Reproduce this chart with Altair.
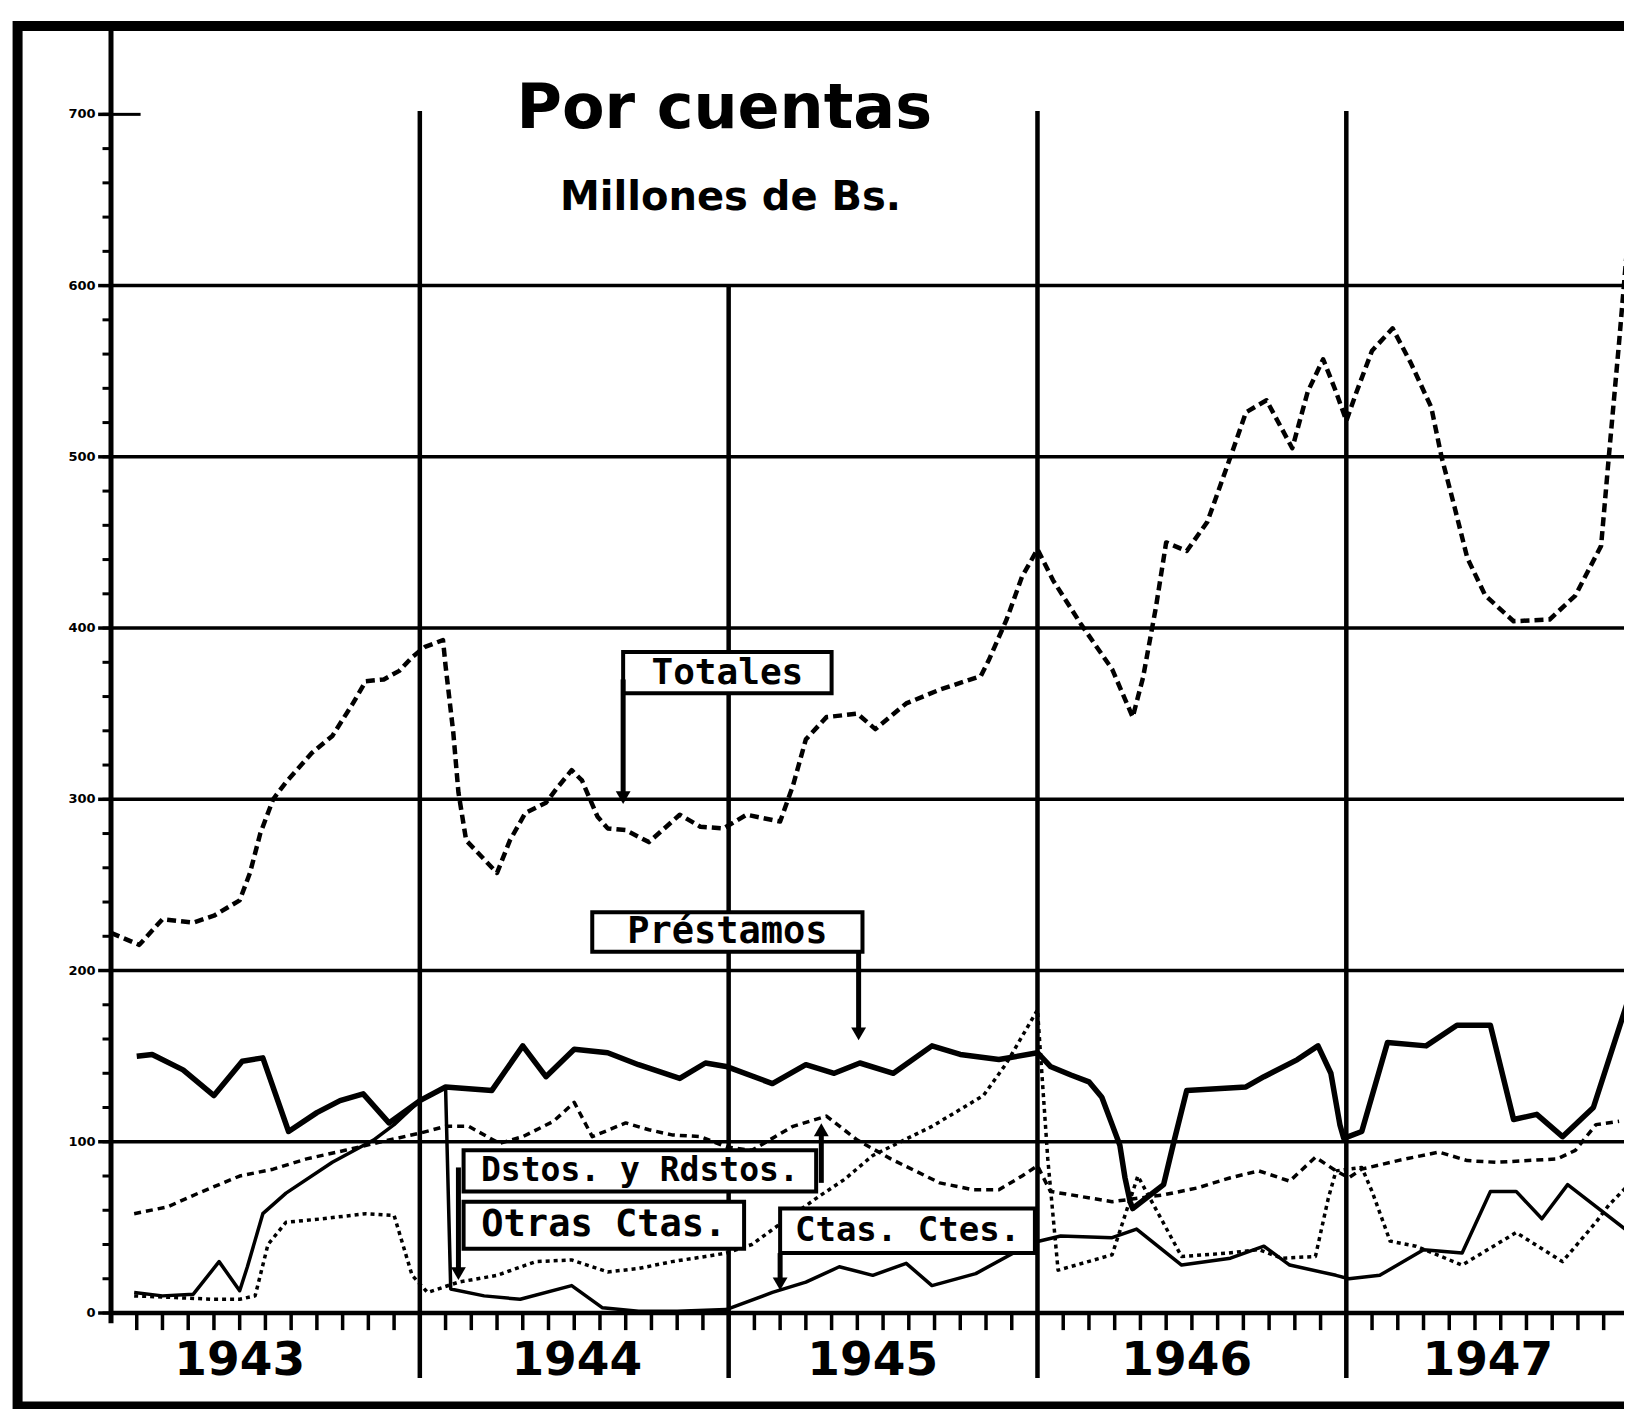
import altair as alt
import pandas as pd

# x = months counted from January 1943 (0); values in millions
totales_mes = [0.0, 1.1, 2.0, 3.2, 4.0, 5.0, 5.4, 5.8, 6.3, 6.8, 7.8, 8.6, 9.4, 9.9, 10.6,
               11.2, 11.7, 12.2, 12.9, 13.0, 13.3, 13.5, 13.8, 15.0, 15.5, 16.1, 16.9, 17.3, 17.9, 18.3,
               18.9, 19.3, 20.0, 20.9, 22.1, 22.9, 23.8, 24.7, 26.0, 26.5, 27.0, 27.8, 29.0, 29.7, 30.9,
               32.2, 33.8, 34.1, 34.8, 35.4, 36.0, 36.6, 37.7, 38.9, 39.7, 40.1, 40.6, 41.0, 41.8, 42.6,
               43.5, 44.1, 44.9, 45.9, 46.5, 47.1, 47.6, 48.0, 48.4, 49.0, 49.8, 50.5, 51.3, 51.7, 52.2,
               52.7, 53.4, 54.5, 55.9, 56.9, 57.9, 58.2, 58.6, 59.0, 59.3]
totales_val = [222, 215, 230, 228, 232, 241, 257, 280, 300, 310, 327, 337, 356, 369, 370,
               375, 383, 389, 393, 378, 339, 304, 276, 257, 276, 292, 298, 306, 317, 311,
               290, 283, 282, 275, 291, 284, 283, 291, 287, 308, 335, 348, 350, 341, 356,
               364, 372, 381, 405, 430, 446, 428, 402, 376, 348, 371, 412, 450, 445, 462,
               500, 526, 533, 505, 538, 557, 538, 521, 538, 562, 575, 555, 529, 500, 471,
               441, 419, 404, 405, 419, 448, 500, 567, 638, 669]

prestamos_mes = [1.0, 1.6, 2.8, 4.0, 5.1, 5.9, 6.9, 8.0, 8.9, 9.8, 10.8, 12.0, 13.0, 14.8, 16.0,
                 16.9, 18.0, 19.3, 20.5, 22.1, 23.1, 23.9, 25.7, 27.0, 28.1, 29.1, 30.4, 31.9, 33.0, 34.5,
                 36.0, 36.5, 37.3, 38.0, 38.5, 38.9, 39.2, 39.4, 39.6, 39.7, 40.9, 41.3, 41.8, 44.1, 44.8,
                 46.1, 46.9, 47.4, 47.75, 47.9, 48.6, 49.6, 51.1, 52.3, 53.6, 54.5, 55.4, 56.4, 57.6, 59.0]
prestamos_val = [150, 151, 142, 127, 147, 149, 106, 117, 124, 128, 111, 124, 132, 130, 156,
                 138, 154, 152, 145, 137, 146, 144, 134, 145, 140, 146, 140, 156, 151, 148,
                 152, 144, 139, 135, 126, 110, 98, 79, 65, 61, 75, 100, 130, 132, 138,
                 148, 156, 140, 110, 102, 106, 158, 156, 168, 168, 113, 116, 103, 120, 185]

dstos_mes = [0.9, 2.2, 3.4, 5.0, 6.3, 7.6, 9.1, 10.5, 12.0, 13.0, 13.9, 15.1, 16.0, 17.2, 18.0,
             18.7, 20.0, 20.9, 21.8, 22.9, 23.9, 24.9, 26.5, 27.8, 29.0, 30.3, 32.2, 33.5, 34.5, 35.4,
             36.0, 36.5, 38.9, 40.9, 42.2, 43.5, 44.6, 45.8, 46.8, 47.6, 48.1, 48.6, 50.0, 51.6, 52.7,
             53.8, 56.2, 56.9, 57.7, 58.6]
dstos_val = [58, 62, 70, 80, 84, 90, 95, 100, 105, 109, 109, 99, 103, 112, 123,
             103, 111, 107, 104, 103, 97, 95, 109, 115, 101, 90, 76, 72, 72, 80,
             86, 71, 65, 69, 73, 79, 83, 77, 91, 83, 79, 84, 89, 94, 89,
             88, 90, 95, 110, 112]

otras_mes = [0.9, 2.0, 3.2, 4.2, 5.0, 5.3, 5.9, 6.8, 8.6, 10.2, 11.0, 12.0, 13.0, 13.2, 14.5,
             15.9, 17.9, 19.1, 20.5, 22.0, 23.9, 25.7, 27.0, 28.3, 29.6, 30.9, 31.9, 33.6, 35.8, 36.9,
             38.9, 39.85, 41.6, 43.5, 44.8, 45.8, 47.6, 48.1, 49.3, 51.0, 52.5, 53.6, 54.6, 55.6, 56.6,
             59.0]
otras_val = [12, 10, 11, 30, 13, 27, 58, 70, 88, 101, 110, 124, 132, 14, 10,
             8, 16, 3, 1, 1, 2, 12, 18, 27, 22, 29, 16, 23, 41, 45,
             44, 49, 28, 32, 39, 28, 22, 20, 22, 37, 35, 71, 71, 55, 75,
             47]

ctes_mes = [0.9, 2.5, 4.0, 5.0, 5.6, 6.1, 6.8, 8.2, 9.9, 11.0, 11.7, 12.3, 13.5, 15.0, 16.5,
            17.9, 19.3, 20.5, 21.8, 23.1, 23.9, 24.9, 26.0, 27.5, 28.5, 29.6, 31.9, 33.9, 34.8, 36.0,
            36.4, 36.8, 38.9, 39.9, 41.6, 43.4, 44.6, 45.5, 46.8, 47.3, 47.6, 48.6, 49.0, 49.7, 50.7,
            52.5, 54.6, 56.4, 57.7, 58.2, 59.3]
ctes_val = [10, 9, 8, 8, 10, 40, 53, 55, 58, 57, 22, 12, 18, 22, 30,
            31, 24, 26, 30, 33, 35, 40, 52, 68, 78, 92, 109, 127, 146, 177,
            90, 25, 34, 80, 33, 35, 37, 32, 33, 67, 83, 85, 71, 42, 39,
            28, 47, 30, 53, 63, 80]

anios = ["1943", "1944", "1945", "1946", "1947"]
anios_mes = [5.0, 18.1, 29.6, 41.8, 53.5]
y_etiquetas = [0, 100, 200, 300, 400, 500, 600, 700]
rejilla_h = [100, 200, 300, 400, 500, 600]
rejilla_v_mes = [12, 24, 36, 48]
rejilla_v_tope = [702, 600, 702, 702]

# label boxes (annotation data)
cajas_texto = ["Totales", "Préstamos", "Dstos. y Rdstos.", "Otras Ctas.", "Ctas. Ctes."]
cajas_x1 = [19.9, 18.7, 13.7, 13.7, 26.0]
cajas_x2 = [28.0, 29.2, 27.4, 24.6, 35.9]
cajas_y1 = [362, 211, 71, 37.5, 35]
cajas_y2 = [386, 234, 95, 65, 61]
cajas_fs = [36, 37, 33, 37, 34]

flechas_mes = [19.9, 29.05, 13.5, 26.0, 27.6]
flechas_desde = [370, 211, 85, 35, 76]
flechas_hasta = [304, 166, 26, 20, 104]
flechas_punta = [301, 163, 23, 17, 107]
flechas_forma = ["triangle-down", "triangle-down", "triangle-down", "triangle-down", "triangle-up"]

titulo = "Por cuentas"
subtitulo = "Millones de Bs."

X_MAX = 58.79
Y_MAX = 751.6
X_FAR = 62

xs = alt.Scale(domain=[0, X_MAX], nice=False, zero=False)
ys = alt.Scale(domain=[0, Y_MAX], nice=False, zero=False)


def ex(f):
    return alt.X(f"{f}:Q", scale=xs, axis=None)


def ey(f):
    return alt.Y(f"{f}:Q", scale=ys, axis=None)


layers = []

# outer frame
frame = pd.DataFrame({"a": [-3.63], "b": [X_FAR], "c": [-54.6], "d": [Y_MAX]})
layers.append(alt.Chart(frame).mark_rect(fillOpacity=0, stroke="black", strokeWidth=10).encode(
    x=ex("a"), x2=alt.X2("b"), y=ey("c"), y2=alt.Y2("d")))

# horizontal grid
gh = pd.DataFrame({"v": rejilla_h, "a": 0, "b": X_FAR})
layers.append(alt.Chart(gh).mark_rule(color="black", strokeWidth=3.5).encode(
    x=ex("a"), x2=alt.X2("b"), y=ey("v")))

# zero axis
z = pd.DataFrame({"v": [0], "a": [0], "b": [X_FAR]})
layers.append(alt.Chart(z).mark_rule(color="black", strokeWidth=4.5).encode(
    x=ex("a"), x2=alt.X2("b"), y=ey("v")))

# y axis line
ya = pd.DataFrame({"t": [0], "c": [-6], "d": [Y_MAX]})
layers.append(alt.Chart(ya).mark_rule(color="black", strokeWidth=5).encode(
    x=ex("t"), y=ey("c"), y2=alt.Y2("d")))

# vertical year lines
gv = pd.DataFrame({"t": rejilla_v_mes, "c": -38, "d": rejilla_v_tope})
layers.append(alt.Chart(gv).mark_rule(color="black", strokeWidth=4.5).encode(
    x=ex("t"), y=ey("c"), y2=alt.Y2("d")))

# month ticks
mt = pd.DataFrame({"t": list(range(1, 60)), "c": 0, "d": -10})
layers.append(alt.Chart(mt).mark_rule(color="black", strokeWidth=3.5).encode(
    x=ex("t"), y=ey("c"), y2=alt.Y2("d")))

# y minor / major ticks
ymin = pd.DataFrame({"v": list(range(0, 701, 20)), "a": -0.33, "b": 0})
layers.append(alt.Chart(ymin).mark_rule(color="black", strokeWidth=3).encode(
    x=ex("a"), x2=alt.X2("b"), y=ey("v")))
ymaj = pd.DataFrame({"v": y_etiquetas, "a": -0.5, "b": 0})
layers.append(alt.Chart(ymaj).mark_rule(color="black", strokeWidth=3.5).encode(
    x=ex("a"), x2=alt.X2("b"), y=ey("v")))
y700 = pd.DataFrame({"v": [700], "a": [0], "b": [1.15]})
layers.append(alt.Chart(y700).mark_rule(color="black", strokeWidth=3).encode(
    x=ex("a"), x2=alt.X2("b"), y=ey("v")))

# y labels
yl = pd.DataFrame({"v": y_etiquetas, "t": -0.6, "txt": [str(v) for v in y_etiquetas]})
layers.append(alt.Chart(yl).mark_text(align="right", baseline="middle", fontSize=13,
                                      fontWeight="bold", font="DejaVu Sans", color="black").encode(
    x=ex("t"), y=ey("v"), text="txt:N"))

# year labels
yr = pd.DataFrame({"t": anios_mes, "v": -28, "txt": anios})
layers.append(alt.Chart(yr).mark_text(align="center", baseline="middle", fontSize=47,
                                      fontWeight="bold", font="DejaVu Sans", color="black").encode(
    x=ex("t"), y=ey("v"), text="txt:N"))

# data series
series = [
    (totales_mes, totales_val, [9, 5], 4.5),
    (prestamos_mes, prestamos_val, [1, 0], 5.5),
    (dstos_mes, dstos_val, [7, 5], 3.5),
    (otras_mes, otras_val, [1, 0], 3.5),
    (ctes_mes, ctes_val, [4, 4], 3.5),
]
for i, (m, v, dash, w) in enumerate(series):
    df = pd.DataFrame({"t": m, "v": v, "o": list(range(len(m)))})
    kw = dict(color="black", strokeWidth=w, strokeJoin="round")
    if dash != [1, 0]:
        kw["strokeDash"] = dash
    layers.append(alt.Chart(df).mark_line(**kw).encode(
        x=ex("t"), y=ey("v"), order="o:Q"))

# label boxes
cb = pd.DataFrame({"a": cajas_x1, "b": cajas_x2, "c": cajas_y1, "d": cajas_y2,
                   "txt": cajas_texto, "fs": cajas_fs})
cb["tm"] = (cb["a"] + cb["b"]) / 2
cb["vm"] = (cb["c"] + cb["d"]) / 2
layers.append(alt.Chart(cb).mark_rect(fill="white", stroke="black", strokeWidth=4).encode(
    x=ex("a"), x2=alt.X2("b"), y=ey("c"), y2=alt.Y2("d")))
layers.append(alt.Chart(cb).mark_text(align="center", baseline="middle", fontWeight="bold",
                                      font="DejaVu Sans Mono", color="black").encode(
    x=ex("tm"), y=ey("vm"), text="txt:N", size=alt.Size("fs:Q", scale=None)))

# arrows
fl = pd.DataFrame({"t": flechas_mes, "c": flechas_desde, "d": flechas_hasta,
                   "p": flechas_punta, "s": flechas_forma})
layers.append(alt.Chart(fl).mark_rule(color="black", strokeWidth=5).encode(
    x=ex("t"), y=ey("c"), y2=alt.Y2("d")))
layers.append(alt.Chart(fl).mark_point(filled=True, color="black", size=220, opacity=1).encode(
    x=ex("t"), y=ey("p"), shape=alt.Shape("s:N", scale=None)))

# title
tt = pd.DataFrame({"t": [23.83, 24.07], "v": [703, 651], "txt": [titulo, subtitulo], "fs": [62, 40]})
layers.append(alt.Chart(tt).mark_text(align="center", baseline="middle", fontWeight="bold",
                                      font="DejaVu Sans", color="black").encode(
    x=ex("t"), y=ey("v"), text="txt:N", size=alt.Size("fs:Q", scale=None)))

chart = alt.layer(*layers).properties(
    width=1513, height=1287,
    padding={"left": 103, "top": 18, "right": 0, "bottom": 96},
    autosize=alt.AutoSizeParams(type="none"),
).configure_view(strokeWidth=0).configure(background="white")

chart.save("out.html", embed_options={"renderer": "svg", "actions": False})
